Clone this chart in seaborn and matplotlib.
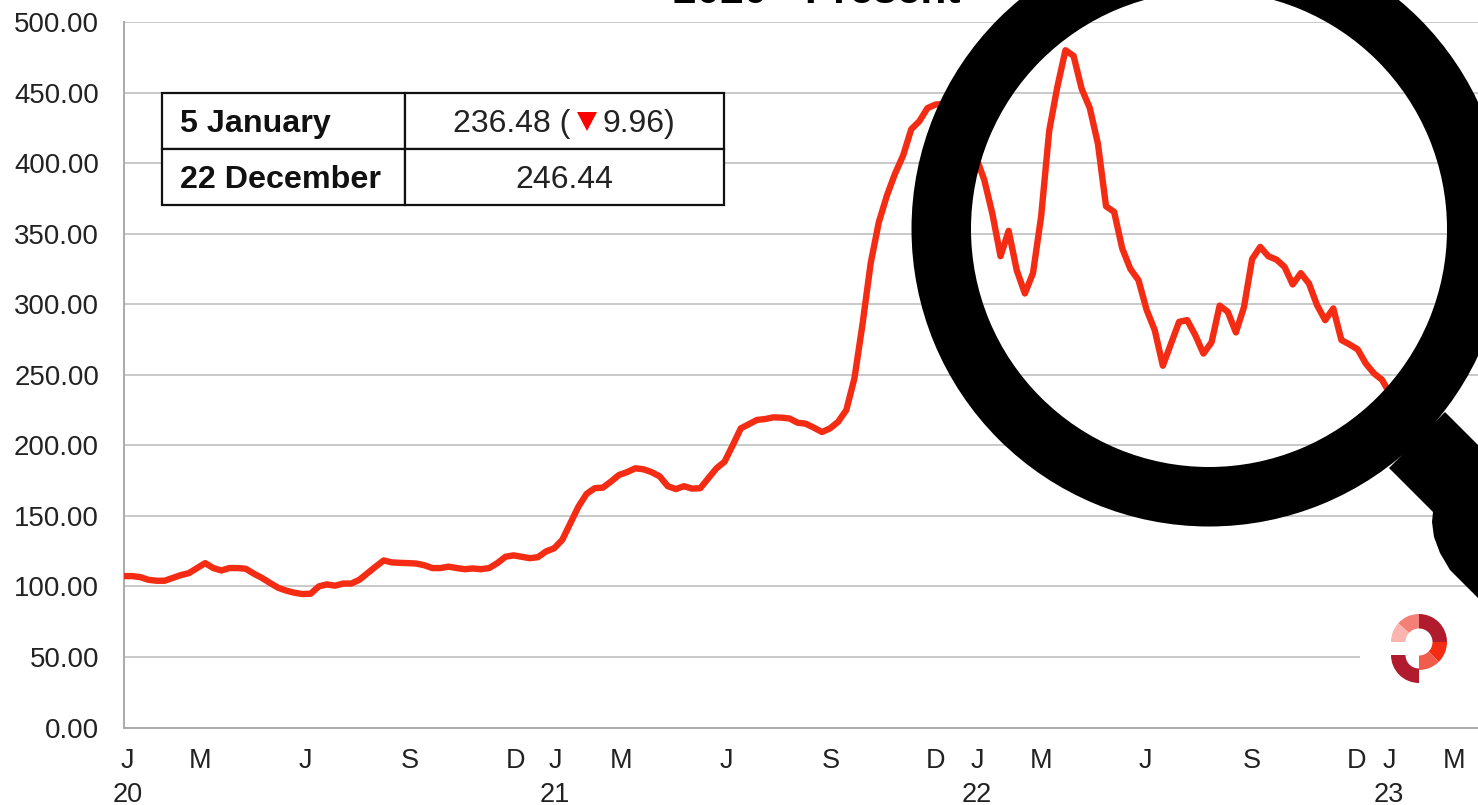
import matplotlib
matplotlib.use("Agg")
import matplotlib.pyplot as plt
from matplotlib.patches import Polygon, Rectangle, Wedge
from matplotlib.transforms import Affine2D
import pandas as pd
import seaborn as sns

# weekly index values (the part under the ring is a guess)
values_2020 = [107.3, 107.3, 106.6, 104.7, 104, 104, 106, 108, 109.4, 113,
               116.5, 113, 111.3, 113, 113, 112.5, 109, 106, 102.4, 99,
               97, 95.5, 94.6, 94.8, 100, 101.4, 100.5, 102, 102, 104.7,
               109.4, 114, 118.4, 117, 116.7, 116.5, 116.2, 115, 113, 113,
               114, 113, 112.2, 112.7, 112.2, 113, 116.5, 121, 122, 121,
               120, 120.7]
values_2021 = [124.8, 127, 133, 144.8, 156.6, 165.6, 169.6, 170, 174.3, 179,
               181, 183.7, 183, 181, 178, 171, 169, 171, 169.3, 169.6,
               176.6, 183.7, 188.4, 200, 212, 215, 218, 218.6, 219.8, 219.6,
               219, 216, 215.3, 212.5, 209.4, 212, 216.7, 225, 247.5, 286,
               329, 358, 377, 392.5, 405.4, 424, 429.7, 439, 441.5, 442,
               441, 436, 420]
values_2022 = [404, 388, 364, 334, 352, 324, 307.6, 322, 362, 423,
               454, 480, 476, 452.6, 439, 413.7, 369.4, 365.4, 339.4, 325,
               317, 296, 281.6, 256.4, 272, 287.5, 288.7, 278, 265, 273,
               299, 294.6, 280, 298, 332, 340.6, 334, 331.6, 326.4, 314,
               322, 314.7, 299.3, 288.7, 297, 274.6, 271.5, 268, 258, 251,
               246.44]
values_2023 = [236.48]

y_ticks = [0, 50, 100, 150, 200, 250, 300, 350, 400, 450, 500]
x_ticks = [0.4, 9.4, 22.3, 35.2, 48.2, 53.1, 61.2, 74.2, 87.1, 100,
           105.1, 113, 125.9, 139, 151.9, 155.9, 163.9]
x_labels = ["J\n20", "M", "J", "S", "D", "J\n21", "M", "J", "S", "D",
            "J\n22", "M", "J", "S", "D", "J\n23", "M"]

title = "2020 - Present"
table_dates = ["5 January", "22 December"]
latest_text = "236.48 ("
change_text = "9.96)"
previous_text = "246.44"

W, H = 1478, 805
FONT = "Liberation Sans"
RED = "#f42c14"

sns.set_theme(style="white")
plt.rcParams["font.family"] = [FONT, "DejaVu Sans"]

values = values_2020 + values_2021 + values_2022 + values_2023
df = pd.DataFrame({"week": range(len(values)), "index": values})

fig = plt.figure(figsize=(W / 100, H / 100), dpi=100, facecolor="white")
ax = fig.add_axes([124 / W, (H - 727.5) / H, (W - 124) / W, 705.5 / H])

sns.lineplot(data=df, x="week", y="index", color=RED, linewidth=4.6, ax=ax,
             solid_joinstyle="round", zorder=3, errorbar=None)

ax.set_xlim(0, (W - 124) / 8.116)
ax.set_ylim(0, 500)
ax.set_xlabel("")
ax.set_ylabel("")
ax.set_yticks(y_ticks)
ax.set_yticklabels([f"{v:.2f}" for v in y_ticks], fontsize=19.9, color="#222222")
ax.set_xticks(x_ticks)
ax.set_xticklabels(x_labels, fontsize=19.5, color="#222222", linespacing=1.36)
ax.tick_params(axis="y", length=0, pad=18)
ax.tick_params(axis="x", length=0, pad=15)
ax.grid(axis="y", color="#c9c9c9", linewidth=1.4)
ax.set_axisbelow(True)
sns.despine(ax=ax, top=True, right=True)
for side in ["left", "bottom"]:
    ax.spines[side].set_color("#aaaaaa")
    ax.spines[side].set_linewidth(1.4)

# everything below is placed in image pixels, y going down
px = Affine2D().scale(1, -1).translate(0, H)

fig.text(817, 3, title, transform=px, ha="center", va="baseline",
         fontsize=30.5, fontweight="bold", color="black")

# small table
for x0, x1 in [(162, 405), (405, 724)]:
    for y0, y1 in [(93, 149), (149, 205)]:
        fig.add_artist(Rectangle((x0, y0), x1 - x0, y1 - y0, transform=px,
                                 facecolor="white", edgecolor="#111111", linewidth=1.6, zorder=5))
for date, y in zip(table_dates, [124, 180]):
    fig.text(180, y, date, transform=px, ha="left", va="center", fontsize=23.2,
             fontweight="bold", color="#111111", zorder=6)
fig.text(570, 124, latest_text, transform=px, ha="right", va="center", fontsize=23,
         color="#222222", zorder=6)
fig.text(603, 124, change_text, transform=px, ha="left", va="center", fontsize=23,
         color="#222222", zorder=6)
fig.add_artist(Polygon([(577, 112), (597, 112), (587, 131)], transform=px,
                       facecolor="#fe0000", edgecolor="none", zorder=6))
fig.text(564, 180, previous_text, transform=px, ha="center", va="center", fontsize=23,
         color="#222222", zorder=6)

# logo, on a white patch that hides the gridline (y is flipped, angles run clockwise)
fig.add_artist(Rectangle((1360, 610), 118, 76, transform=px, facecolor="white",
                         edgecolor="none", zorder=4))
logo = [(642, -90, 0, "#b01c2e"),
        (642, 0, 45, RED),
        (642, 45, 90, "#f25c4d"),
        (642, -138, -90, "#f47f76"),
        (642, -180, -138, "#fab5b0"),
        (655, 90, 180, "#b01c2e")]
for cy, a0, a1, colour in logo:
    fig.add_artist(Wedge((1419, cy), 28, a0, a1, width=14.5, transform=px,
                         facecolor=colour, edgecolor="none", zorder=5))

# magnifying glass drawn over the chart
fig.add_artist(Polygon([(1389, 468), (1445, 412), (1500, 467), (1500, 620), (1478, 598),
                        (1450, 570), (1440, 553), (1434, 537), (1432, 522), (1433, 512)],
                       transform=px, facecolor="black", edgecolor="none", zorder=7))
fig.add_artist(Wedge((1209, 229), 297.5, 0, 360, width=59.5, transform=px,
                     facecolor="black", edgecolor="none", zorder=8))

fig.savefig("out.png", dpi=100, facecolor="white")
